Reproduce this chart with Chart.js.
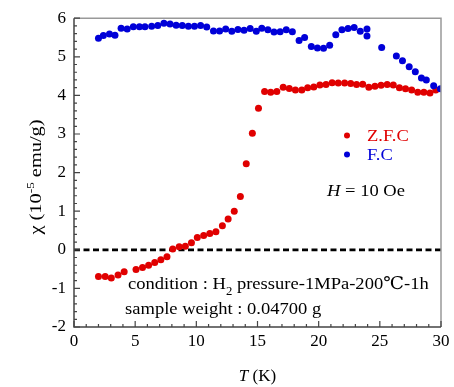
<!doctype html>
<html>
<head>
<title>Chart</title>
<script src="https://cdn.jsdelivr.net/npm/chart.js@4"></script>
<style>
body { margin: 0; background: #fff; }
</style>
</head>
<body>
<canvas id="canvas" width="454" height="387"></canvas>
<script>
// Z.F.C curve
var zfcT = [2, 2.55, 3.05, 3.6, 4.1, 5.07, 5.6, 6.1, 6.6, 7.1, 7.6, 8.07, 8.6, 9.1, 9.6, 10.08, 10.6, 11.1, 11.6, 12.13,
            12.6, 13.1, 13.6, 14.08, 14.58, 15.08, 15.58, 16.08, 16.58, 17.1, 17.6, 18.1, 18.62, 19.1, 19.6, 20.1, 20.6,
            21.1, 21.6, 22.12, 22.62, 23.1, 23.6, 24.1, 24.6, 25.1, 25.6, 26.1, 26.6, 27.1, 27.6, 28.1, 28.6, 29.1, 29.57];
var zfcChi = [-0.69, -0.69, -0.73, -0.65, -0.57, -0.51, -0.46, -0.40, -0.33, -0.26, -0.18, 0.02, 0.08, 0.09, 0.18, 0.32,
              0.37, 0.42, 0.47, 0.62, 0.80, 1.0, 1.38, 2.23, 3.02, 3.67, 4.10, 4.08, 4.10, 4.21, 4.18, 4.14, 4.14, 4.20,
              4.22, 4.27, 4.28, 4.33, 4.32, 4.32, 4.31, 4.28, 4.29, 4.21, 4.24, 4.26, 4.28, 4.27, 4.20, 4.17, 4.14, 4.08,
              4.08, 4.06, 4.14];
// F.C curve
var fcT = [2, 2.4, 2.9, 3.35, 3.85, 4.35, 4.85, 5.35, 5.8, 6.35, 6.85, 7.35, 7.85, 8.35, 8.85, 9.35, 9.85, 10.35, 10.85,
           11.4, 11.9, 12.4, 12.9, 13.4, 13.9, 14.4, 14.9, 15.35, 15.85, 16.35, 16.85, 17.35, 17.85, 18.4, 18.85, 19.4,
           19.9, 20.4, 20.9, 21.4, 21.9, 22.4, 22.9, 23.4, 23.95, 23.95, 25.15, 26.35, 26.85, 27.4, 27.9, 28.4, 28.8,
           29.4, 29.95];
var fcChi = [5.48, 5.55, 5.59, 5.56, 5.74, 5.72, 5.78, 5.78, 5.78, 5.79, 5.81, 5.87, 5.85, 5.82, 5.81, 5.79, 5.79, 5.81,
             5.77, 5.67, 5.67, 5.72, 5.66, 5.71, 5.69, 5.73, 5.66, 5.74, 5.70, 5.64, 5.65, 5.70, 5.65, 5.42, 5.50, 5.27,
             5.23, 5.22, 5.30, 5.57, 5.70, 5.73, 5.76, 5.66, 5.72, 5.54, 5.24, 5.02, 4.90, 4.74, 4.61, 4.45, 4.40, 4.25,
             4.17];
var xTicks = [0, 5, 10, 15, 20, 25, 30];
var yTicks = [-2, -1, 0, 1, 2, 3, 4, 5, 6];

var red = '#e00000';
var blue = '#0000d8';
var serif = "'Liberation Serif', 'DejaVu Serif', serif";

function pts(xs, ys) {
	return xs.map(function (x, i) { return { x: x, y: ys[i] }; });
}

// text drawn a little wider, like the reference
function wideText(ctx, s, x, y, sx) {
	ctx.save();
	ctx.translate(x, y);
	ctx.scale(sx, 1);
	ctx.fillText(s, 0, 0);
	var w = ctx.measureText(s).width * sx;
	ctx.restore();
	return w;
}

// frame, inward ticks, legend and notes
var decor = {
	id: 'decor',
	afterDraw: function (chart) {
		var ctx = chart.ctx, a = chart.chartArea;
		var xs = chart.scales.x, ys = chart.scales.y;
		ctx.save();
		ctx.lineWidth = 1.5;
		ctx.strokeStyle = '#999';
		ctx.beginPath();
		ctx.moveTo(a.left, a.top); ctx.lineTo(a.right, a.top); ctx.lineTo(a.right, a.bottom);
		ctx.stroke();
		ctx.strokeStyle = '#444';
		ctx.beginPath();
		ctx.moveTo(a.left, a.top); ctx.lineTo(a.left, a.bottom); ctx.lineTo(a.right, a.bottom);
		ctx.stroke();

		ctx.lineWidth = 1.2;
		ctx.beginPath();
		for (var t = 0; t <= 30; t += 1) {
			var px = xs.getPixelForValue(t);
			var len = (t % 5 === 0) ? 6 : 3;
			ctx.moveTo(px, a.bottom); ctx.lineTo(px, a.bottom - len);
		}
		for (var k = 0; k <= 40; k++) {
			var v = -2 + k * 0.2;
			var py = ys.getPixelForValue(v);
			var l2 = (k % 5 === 0) ? 6 : 3;
			ctx.moveTo(a.left, py); ctx.lineTo(a.left + l2, py);
		}
		ctx.stroke();

		var sx = 1.06;
		// legend
		ctx.fillStyle = red;
		ctx.beginPath(); ctx.arc(347, 135.5, 3, 0, Math.PI * 2); ctx.fill();
		ctx.fillStyle = blue;
		ctx.beginPath(); ctx.arc(347, 154.5, 3, 0, Math.PI * 2); ctx.fill();
		ctx.font = '17.5px ' + serif;
		ctx.textBaseline = 'alphabetic';
		ctx.fillStyle = red;
		wideText(ctx, 'Z.F.C', 367, 141, sx);
		ctx.fillStyle = blue;
		wideText(ctx, 'F.C', 367, 160, sx);

		ctx.fillStyle = '#000';
		var x0 = 327;
		ctx.font = 'italic 17.5px ' + serif;
		x0 += wideText(ctx, 'H', x0, 196, sx);
		ctx.font = '17.5px ' + serif;
		wideText(ctx, ' = 10 Oe', x0, 196, sx);

		// notes
		var cx = 128;
		cx += wideText(ctx, 'condition : H', cx, 289, sx);
		ctx.font = '12px ' + serif;
		cx += wideText(ctx, '2', cx, 295, sx);
		ctx.font = '17.5px ' + serif;
		wideText(ctx, ' pressure-1MPa-200\u2103-1h', cx, 289, sx);
		wideText(ctx, 'sample weight : 0.04700 g', 125, 314, sx);

		// axis titles
		var w1, w2;
		ctx.font = 'italic 17px ' + serif;
		w1 = ctx.measureText('T').width;
		ctx.font = '17px ' + serif;
		w2 = ctx.measureText(' (K)').width;
		var tx = (a.left + a.right) / 2 - (w1 + w2) / 2;
		ctx.font = 'italic 17px ' + serif;
		ctx.fillText('T', tx, 381);
		ctx.font = '17px ' + serif;
		ctx.fillText(' (K)', tx + w1, 381);

		ctx.translate(41, 177);
		ctx.rotate(-Math.PI / 2);
		ctx.scale(1.2, 1);
		var p1 = '\u03c7 (10', p2 = '-5', p3 = ' emu/g)';
		ctx.font = '17px ' + serif;
		var q1 = ctx.measureText(p1).width, q3 = ctx.measureText(p3).width;
		ctx.font = '11px ' + serif;
		var q2 = ctx.measureText(p2).width;
		var ox = -(q1 + q2 + q3) / 2;
		ctx.font = '17px ' + serif;
		ctx.fillText(p1, ox, 0);
		ctx.font = '11px ' + serif;
		ctx.fillText(p2, ox + q1, -7);
		ctx.font = '17px ' + serif;
		ctx.fillText(p3, ox + q1 + q2, 0);
		ctx.restore();
	}
};

var ctx = document.getElementById('canvas').getContext('2d');
window.myChart = new Chart(ctx, {
	type: 'scatter',
	data: {
		datasets: [{
			label: 'F.C',
			data: pts(fcT, fcChi),
			backgroundColor: blue,
			borderWidth: 0,
			pointRadius: 3.5,
			order: 0
		}, {
			label: 'Z.F.C',
			data: pts(zfcT, zfcChi),
			backgroundColor: red,
			borderWidth: 0,
			pointRadius: 3.5,
			order: 1
		}, {
			type: 'line',
			label: 'zero',
			data: [{ x: 0, y: 0 }, { x: 30, y: 0 }],
			borderColor: '#000',
			borderWidth: 2.7,
			borderDash: [6, 3.5],
			pointRadius: 0,
			order: 2
		}]
	},
	options: {
		responsive: false,
		animation: false,
		layout: { padding: { top: 14, right: 13, left: 0, bottom: 0 } },
		plugins: { legend: { display: false }, tooltip: { enabled: false } },
		scales: {
			x: {
				type: 'linear', min: 0, max: 30,
				afterBuildTicks: function (s) { s.ticks = xTicks.map(function (v) { return { value: v }; }); },
				ticks: { color: '#000', font: { family: serif, size: 17 }, padding: 4, maxRotation: 0 },
				grid: { drawOnChartArea: false, drawTicks: false },
				border: { display: false },
				afterFit: function (s) { s.height = 60; }
			},
			y: {
				min: -2, max: 6,
				afterBuildTicks: function (s) { s.ticks = yTicks.map(function (v) { return { value: v }; }); },
				ticks: { color: '#000', font: { family: serif, size: 17 }, padding: 8 },
				grid: { drawOnChartArea: false, drawTicks: false },
				border: { display: false },
				afterFit: function (s) { s.width = 74; }
			}
		}
	},
	plugins: [decor]
});
</script>
</body>
</html>
